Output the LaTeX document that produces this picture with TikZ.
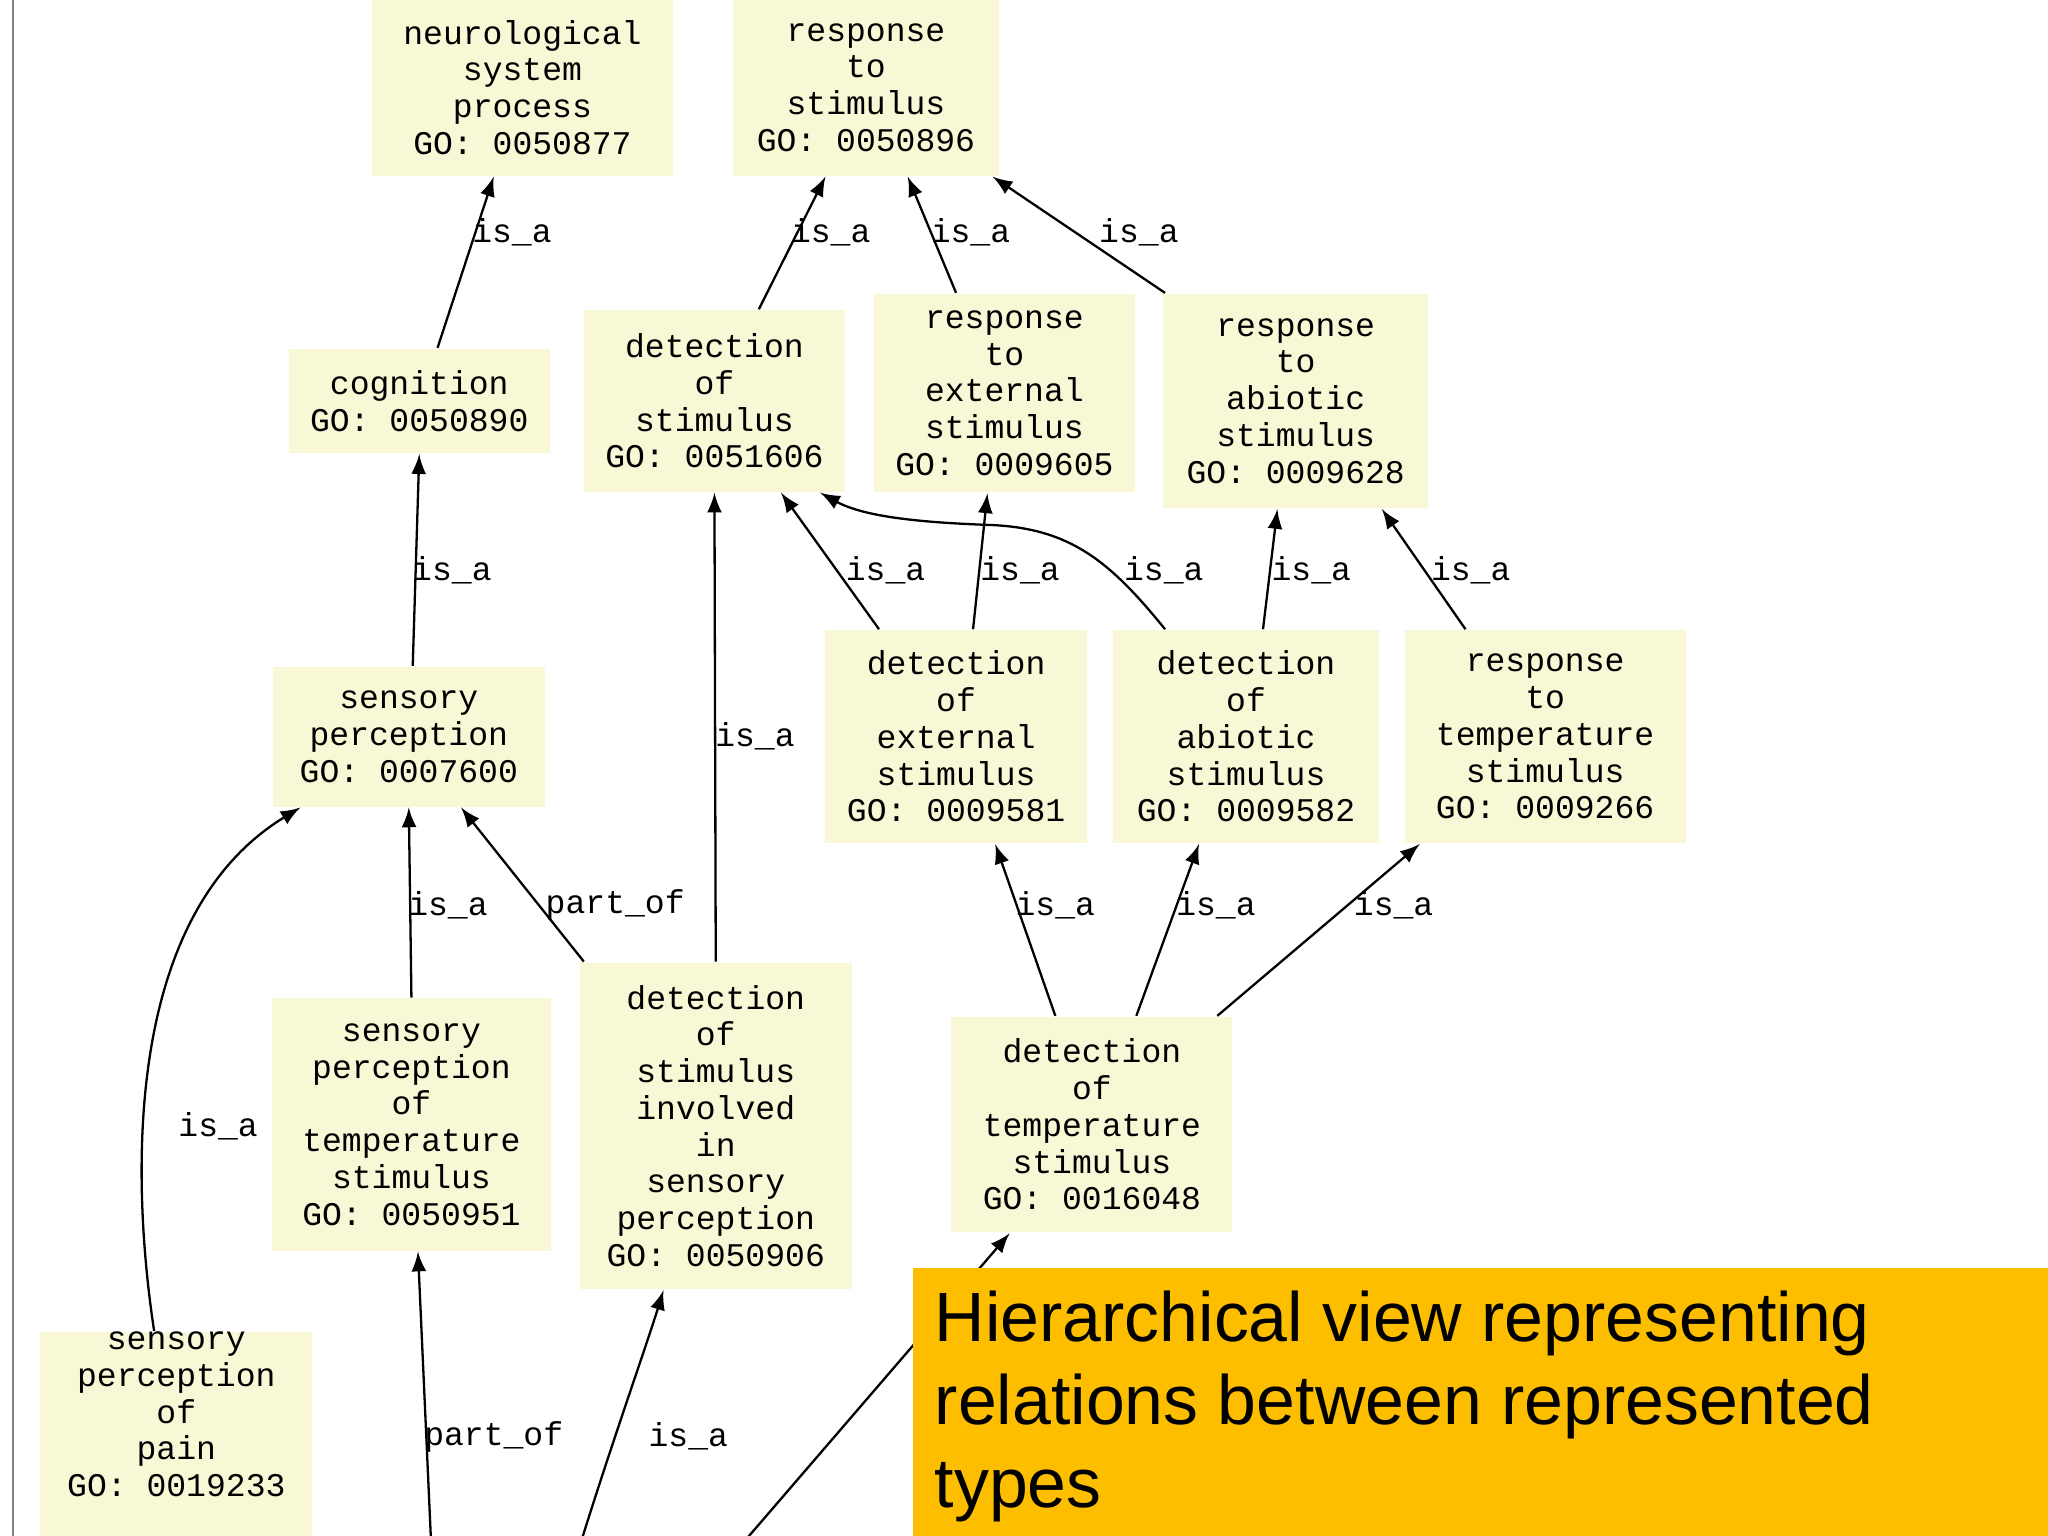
\documentclass[tikz,border=0pt]{standalone}
\usepackage{fontspec}
\setmainfont{Liberation Sans}
\newfontfamily\gofont{Liberation Mono}
\definecolor{gobox}{HTML}{F8F8D6}
\definecolor{capbox}{HTML}{FDBE00}
\tikzset{
 term/.style={fill=gobox,align=center,font=\gofont\fontsize{7.2}{8}\selectfont,inner sep=0pt},
 rel/.style={-latex,line width=0.5pt},
 lbl/.style={font=\gofont\fontsize{7.2}{8}\selectfont,inner sep=0pt}
}
\begin{document}
\begin{tikzpicture}[x=0.01cm,y=-0.01cm]
\useasboundingbox (0,0) rectangle (1568,1176);
\clip (0,0) rectangle (1568,1176);
\fill[white] (0,0) rectangle (1568,1176);
\draw[gray,line width=0.6pt] (10,0) -- (10,1176);
\node[term,minimum width=2.3cm,minimum height=1.35cm] (neuro) at (400,67) {neurological\\system\\process\\GO: 0050877};
\node[term,minimum width=2.03cm,minimum height=1.35cm] (resp) at (663,67) {response\\to\\stimulus\\GO: 0050896};
\node[term,minimum width=2.0cm,minimum height=0.8cm] (cog) at (321,307) {cognition\\GO: 0050890};
\node[term,minimum width=2.0cm,minimum height=1.39cm] (detstim) at (547,307) {detection\\of\\stimulus\\GO: 0051606};
\node[term,minimum width=2.0cm,minimum height=1.52cm] (respext) at (769,301) {response\\to\\external\\stimulus\\GO: 0009605};
\node[term,minimum width=2.03cm,minimum height=1.64cm] (respab) at (992,307) {response\\to\\abiotic\\stimulus\\GO: 0009628};
\node[term,minimum width=2.08cm,minimum height=1.07cm] (sens) at (313,564) {sensory\\perception\\GO: 0007600};
\node[term,minimum width=2.01cm,minimum height=1.63cm] (detext) at (732,564) {detection\\of\\external\\stimulus\\GO: 0009581};
\node[term,minimum width=2.03cm,minimum height=1.63cm] (detab) at (954,564) {detection\\of\\abiotic\\stimulus\\GO: 0009582};
\node[term,minimum width=2.15cm,minimum height=1.63cm] (resptemp) at (1183,564) {response\\to\\temperature\\stimulus\\GO: 0009266};
\node[term,minimum width=2.13cm,minimum height=1.93cm] (senstemp) at (315,861) {sensory\\perception\\of\\temperature\\stimulus\\GO: 0050951};
\node[term,minimum width=2.08cm,minimum height=2.5cm] (detinv) at (548,862) {detection\\of\\stimulus\\involved\\in\\sensory\\perception\\GO: 0050906};
\node[term,minimum width=2.15cm,minimum height=1.65cm] (dettemp) at (836,861) {detection\\of\\temperature\\stimulus\\GO: 0016048};
\node[term,minimum width=2.08cm,minimum height=1.72cm,anchor=north] (pain) at (135,1019) {sensory\\perception\\of\\pain\\GO: 0019233\\[8pt]};
\coordinate (b1) at (330,1180);
\coordinate (b2) at (445,1180);
\coordinate (b3) at (570,1180);

\draw[rel] (cog.north -| 335,0) -- (neuro.south -| 378,0) node[lbl] at (392,178) {is\_a};
\draw[rel] (detstim.north -| 581,0) -- (resp.south -| 632,0) node[lbl] at (636,178) {is\_a};
\draw[rel] (respext.north -| 732,0) -- (resp.south -| 695,0) node[lbl] at (743,178) {is\_a};
\draw[rel] (respab.north -| 892,0) -- (resp.south -| 760,0) node[lbl] at (872,178) {is\_a};
\draw[rel] (sens.north -| 316,0) -- (cog.south -| 321,0) node[lbl] at (346,437) {is\_a};
\draw[rel] (detext.north -| 673,0) -- (detstim.south -| 598,0) node[lbl] at (678,437) {is\_a};
\draw[rel] (detext.north -| 745,0) -- (respext.south -| 756,0) node[lbl] at (781,437) {is\_a};
\draw[rel] (detab.north -| 892,0) .. controls (850,430) and (820,405) .. (760,402) .. controls (700,400) and (660,395) .. (detstim.south -| 628,0) node[lbl] at (891,437) {is\_a};
\draw[rel] (detab.north -| 967,0) -- (respab.south -| 978,0) node[lbl] at (1004,437) {is\_a};
\draw[rel] (resptemp.north -| 1122,0) -- (respab.south -| 1058,0) node[lbl] at (1126,437) {is\_a};
\draw[rel] (senstemp.north -| 315,0) -- (sens.south -| 313,0) node[lbl] at (343,693) {is\_a};
\draw[rel] (detinv.north -| 447,0) -- (sens.south -| 353,0) node[lbl] at (471,693) {part\_of};
\draw[rel] (detinv.north -| 548,0) -- (detstim.south -| 547,0) node[lbl] at (578,564) {is\_a};
\draw[rel] (dettemp.north -| 808,0) -- (detext.south -| 762,0) node[lbl] at (808,693) {is\_a};
\draw[rel] (dettemp.north -| 870,0) -- (detab.south -| 918,0) node[lbl] at (931,693) {is\_a};
\draw[rel] (dettemp.north -| 932,0) -- (resptemp.south -| 1087,0) node[lbl] at (1067,693) {is\_a};
\draw[rel] (pain.north -| 118,0) .. controls (100,900) and (95,700) .. (sens.south -| 230,0) node[lbl] at (167,862) {is\_a};
\draw[rel] (b1) -- (senstemp.south -| 320,0) node[lbl] at (378,1100) {part\_of};
\draw[rel] (b2) .. controls (470,1100) and (495,1030) .. (detinv.south -| 508,0) node[lbl] at (527,1100) {is\_a};
\draw[rel] (b3) -- (dettemp.south -| 773,0);

\node[fill=capbox,minimum width=8.72cm,minimum height=2.08cm,anchor=north west,inner sep=0pt] (cap) at (698,970) {};
\node[anchor=north west,align=left,font=\fontsize{15.2}{18}\selectfont,inner sep=0pt] (captxt) at (715,988) {Hierarchical view representing\\relations between represented\\types};
\end{tikzpicture}
\end{document}
